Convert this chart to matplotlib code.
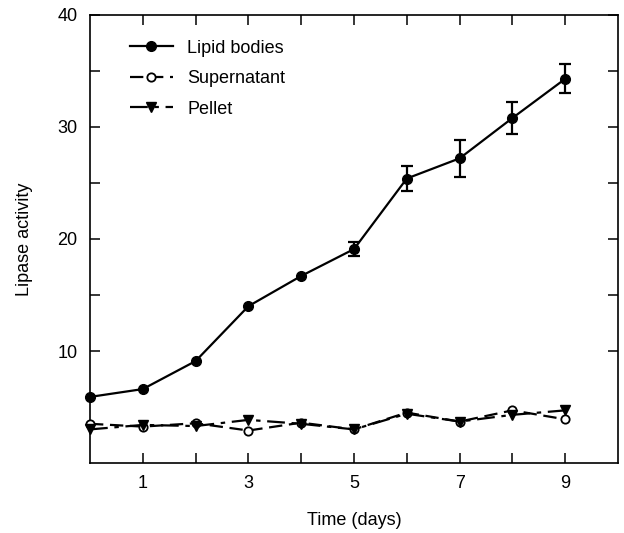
import numpy as np
import matplotlib
matplotlib.use('Agg')
import matplotlib.pyplot as plt

plt.rcParams['font.family'] = ['Liberation Sans', 'DejaVu Sans']

# data
days = [0, 1, 2, 3, 4, 5, 6, 7, 8, 9]
lipid = [5.9, 6.6, 9.1, 14.0, 16.7, 19.1, 25.4, 27.2, 30.8, 34.3]
lipid_err = [0, 0, 0, 0, 0, 0.6, 1.15, 1.65, 1.4, 1.3]
supernatant = [3.5, 3.25, 3.55, 2.9, 3.6, 3.0, 4.5, 3.7, 4.7, 3.9]
pellet = [3.0, 3.4, 3.3, 3.85, 3.5, 3.0, 4.4, 3.7, 4.3, 4.7]

fig = plt.figure(figsize=(6.24, 5.33), dpi=100)
ax = fig.add_axes([90/624, 1-463/533, 528/624, 448/533])

# error bars (only where visible)
d = np.array(days)
e = np.array(lipid_err)
m = e > 0
ax.errorbar(d[m], np.array(lipid)[m], yerr=e[m], fmt='none', ecolor='black',
            elinewidth=1.6, capsize=4, capthick=1.6, zorder=2, clip_on=False)

ax.plot(days, supernatant, color='black', lw=1.6, ls=(0, (6, 3)),
        marker='o', ms=6, mfc='white', mec='black', mew=1.3,
        label='Supernatant', zorder=3, clip_on=False)
ax.plot(days, pellet, color='black', lw=1.6, ls=(0, (8, 3, 2, 3)),
        marker='v', ms=7, mfc='black', mec='black',
        label='Pellet', zorder=3, clip_on=False)
ax.plot(days, lipid, color='black', lw=1.6, ls='-',
        marker='o', ms=7, mfc='black', mec='black',
        label='Lipid bodies', zorder=4, clip_on=False)

ax.set_xlim(0, 10)
ax.set_ylim(0, 40)
ax.set_xticks([1, 3, 5, 7, 9])
ax.set_xticks([2, 4, 6, 8], minor=True)
ax.set_yticks([10, 20, 30, 40])
ax.set_yticks([15, 25, 35], minor=True)

ax.tick_params(which='both', direction='in', top=True, right=True,
               width=1.1, labelsize=13, pad=9)
ax.tick_params(which='major', length=7)
ax.tick_params(which='minor', length=7)
for s in ax.spines.values():
    s.set_linewidth(1.2)

ax.set_xlabel('Time (days)', fontsize=13)
ax.set_ylabel('Lipase activity', fontsize=13)
ax.xaxis.set_label_coords(0.5, -0.11)
ax.yaxis.set_label_coords(-0.108, 0.5)

h, l = ax.get_legend_handles_labels()
order = [2, 0, 1]
ax.legend([h[i] for i in order], [l[i] for i in order], loc='upper left',
          bbox_to_anchor=(0.075, 0.945), frameon=False, fontsize=13,
          handlelength=2.4, handletextpad=0.8, labelspacing=0.75,
          borderpad=0, borderaxespad=0)

fig.savefig('out.png', dpi=100)
